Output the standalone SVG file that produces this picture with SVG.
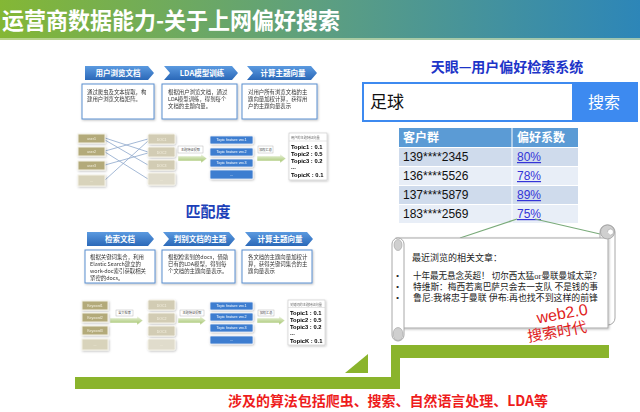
<svg xmlns="http://www.w3.org/2000/svg" width="640" height="412" viewBox="0 0 640 412">
<defs>
<linearGradient id="hdr" x1="0" y1="0" x2="1" y2="0">
<stop offset="0" stop-color="#84b735"/><stop offset="0.5" stop-color="#5d9f80"/><stop offset="1" stop-color="#2d86b8"/>
</linearGradient>
<linearGradient id="chevG" x1="0" y1="0" x2="0" y2="1">
<stop offset="0" stop-color="#5b9ae0"/><stop offset="1" stop-color="#2a68b8"/>
</linearGradient>
<linearGradient id="arrG" x1="0" y1="0" x2="0" y2="1">
<stop offset="0" stop-color="#eef4e2"/><stop offset="1" stop-color="#9fc266"/>
</linearGradient>
<filter id="sh" x="-20%" y="-20%" width="140%" height="150%">
<feDropShadow dx="0.8" dy="1" stdDeviation="0.8" flood-color="#000" flood-opacity="0.25"/>
</filter>
<style>
.cjk{font-family:"Noto Sans CJK SC","Liberation Sans",sans-serif}
.lat{font-family:"Liberation Sans","Noto Sans CJK SC",sans-serif}
.ser{font-family:"Liberation Serif","Noto Sans CJK SC",serif}
.chev{fill:url(#chevG)}
.chevT{fill:#fff;font-weight:bold;font-size:7.5px;text-anchor:middle}
.desc{fill:#fff;stroke:#5b8fcf;stroke-width:1}
.descT{fill:#333;font-size:5.4px}
.user{fill:#b3aa7a;stroke:#f4f1e6;stroke-width:1}
.userL{fill:#d8d3bb;stroke:#f4f1e6;stroke-width:1}
.doc{fill:#d2ccb4;stroke:#f4f1e6;stroke-width:1}
.docL{fill:#e0dccc;stroke:#f4f1e6;stroke-width:1}
.boxT{fill:#f4f0e0;font-size:3.5px;text-anchor:middle}
.vec{fill:#3c7dd0;stroke:#e8eef8;stroke-width:0.8}
.vecT{fill:#fff;font-size:3.7px;text-anchor:middle}
.lbl{fill:#fff;stroke:#b8b8b8;stroke-width:0.5}
.lblT{fill:#444;font-size:3.2px;text-anchor:middle}
.arr{fill:url(#arrG);stroke:#fff;stroke-width:0.5}
.res{fill:#fff;stroke:#c8c8c8;stroke-width:0.6}
.resH{fill:#666;font-size:3.2px}
.resT{fill:#000;font-weight:bold;font-size:5.8px}
.link{stroke:#8da7cc;stroke-width:0.8;fill:none}
.row1{fill:#cfdbec}
.row2{fill:#e8eef7}
.cell{fill:#111;font-size:12px}
.pct{fill:#3434d8;font-size:12px;text-decoration:underline}
.scT{fill:#222;font-size:9px}
</style>
</defs>

<g id="header">
<rect x="0" y="0" width="640" height="40" fill="url(#hdr)"/>
<rect x="0" y="38" width="640" height="2" fill="#cfe0b0" opacity="0.7"/>
<text class="cjk" x="2" y="29" font-size="23" font-weight="bold" fill="#fff" textLength="338" lengthAdjust="spacingAndGlyphs">运营商数据能力-关于上网偏好搜索</text>
</g>

<!-- Section 1 -->
<g id="chev1a"><path class="chev" d="M85,66 H148 L154,73 L148,80 H85 Z"/><text class="cjk chevT" x="118" y="76">用户浏览文档</text></g>
<g id="chev1b"><path class="chev" d="M164,66 H232 L238,73 L232,80 H164 L170,73 Z"/><text class="cjk chevT" x="202" y="76">LDA模型训练</text></g>
<g id="chev1c"><path class="chev" d="M247,66 H311 L317,73 L311,80 H247 L253,73 Z"/><text class="cjk chevT" x="283" y="76">计算主题向量</text></g>

<g id="desc1a" filter="url(#sh)"><rect class="desc" x="82" y="84" width="72" height="35"/>
<text class="cjk descT" x="87" y="94">通过爬虫及文本提取，构</text><text class="cjk descT" x="87" y="101">建用户浏览文档矩阵。</text></g>
<g id="desc1b" filter="url(#sh)"><rect class="desc" x="162" y="84" width="75" height="35"/>
<text class="cjk descT" x="168" y="94">根据用户浏览文档，通过</text><text class="cjk descT" x="168" y="101">LDA模型训练，得到每个</text><text class="cjk descT" x="168" y="108">文档的主题向量。</text></g>
<g id="desc1c" filter="url(#sh)"><rect class="desc" x="242" y="84" width="75" height="35"/>
<text class="cjk descT" x="248" y="94">对用户所有浏览文档的主</text><text class="cjk descT" x="248" y="101">题向量加权计算，获得用</text><text class="cjk descT" x="248" y="108">户的主题向量表示</text></g>

<g id="connectors1">
<line class="link" x1="105" y1="138" x2="148" y2="152"/>
<line class="link" x1="105" y1="140" x2="148" y2="165"/>
<line class="link" x1="105" y1="151" x2="148" y2="139"/>
<line class="link" x1="105" y1="152" x2="148" y2="179"/>
<line class="link" x1="105" y1="165" x2="148" y2="153"/>
<line class="link" x1="105" y1="180" x2="148" y2="141"/>
<polygon class="arr" points="178,156 201,156 201,154 207,158.5 201,163 201,161 178,161"/>
<polygon class="arr" points="257,156 280,156 280,154 286,158.5 280,163 280,161 257,161"/>
</g>

<g id="users1" filter="url(#sh)">
<rect class="user" x="78" y="134" width="27" height="9"/><text class="lat boxT" x="91.5" y="140">user1</text>
<rect class="user" x="78" y="147" width="27" height="9"/><text class="lat boxT" x="91.5" y="153">user2</text>
<rect class="user" x="78" y="161" width="27" height="9"/><text class="lat boxT" x="91.5" y="167">user3</text>
<rect class="userL" x="78" y="175" width="27" height="11"/><text class="lat boxT" x="91.5" y="182">...</text>
</g>
<g id="docs1" filter="url(#sh)">
<rect class="doc" x="148" y="134" width="27" height="10" rx="1.5"/><text class="lat boxT" x="161.5" y="140.5">DOC1</text>
<rect class="doc" x="148" y="147" width="27" height="10" rx="1.5"/><text class="lat boxT" x="161.5" y="153.5">DOC2</text>
<rect class="doc" x="148" y="160" width="27" height="10" rx="1.5"/><text class="lat boxT" x="161.5" y="166.5">DOC3</text>
<rect class="docL" x="148" y="173" width="27" height="12" rx="1.5"/><text class="lat boxT" x="161.5" y="180.5">...</text>
</g>
<g id="lbl1a"><rect class="lbl" x="178" y="146" width="25" height="7"/><text class="cjk lblT" x="190.5" y="150.8">主题特征提取</text></g>
<g id="vecs1" filter="url(#sh)">
<rect class="vec" x="210" y="136" width="43" height="8" rx="1"/><text class="lat vecT" x="231.5" y="141.3">Topic feature vec1</text>
<rect class="vec" x="210" y="148" width="43" height="8" rx="1"/><text class="lat vecT" x="231.5" y="153.3">Topic feature vec2</text>
<rect class="vec" x="210" y="159" width="43" height="8" rx="1"/><text class="lat vecT" x="231.5" y="164.3">Topic feature vec3</text>
<rect class="vec" x="210" y="170" width="43" height="9" rx="1"/><text class="lat vecT" x="231.5" y="175.5">...</text>
</g>
<g id="lbl1b"><rect class="lbl" x="258" y="146" width="15" height="7"/><text class="cjk lblT" x="265.5" y="150.8">加权汇总</text></g>
<g id="res1" filter="url(#sh)">
<rect class="res" x="289" y="133" width="38" height="47"/>
<text class="cjk resH" x="291" y="139">用户的主题特征向量</text>
<line x1="289" y1="141" x2="327" y2="141" stroke="#ccc" stroke-width="0.5"/>
<text class="lat resT" x="291" y="149">Topic1 : 0.1</text>
<text class="lat resT" x="291" y="156">Topic2 : 0.5</text>
<text class="lat resT" x="291" y="163">Topic3 : 0.2</text>
<text class="lat resT" x="291" y="169" font-weight="normal">...</text>
<text class="lat resT" x="291" y="177">TopicK : 0.1</text>
</g>

<g id="match"><text class="cjk" x="208" y="217" font-size="15" font-weight="bold" fill="#1c3fb8" text-anchor="middle">匹配度</text></g>

<!-- Section 2 -->
<g id="chev2a"><path class="chev" d="M87,232 H148 L154,239 L148,246 H87 Z"/><text class="cjk chevT" x="120" y="242">检索文档</text></g>
<g id="chev2b"><path class="chev" d="M163,232 H229 L235,239 L229,246 H163 L169,239 Z"/><text class="cjk chevT" x="200" y="242">判别文档的主题</text></g>
<g id="chev2c"><path class="chev" d="M245,232 H307 L313,239 L307,246 H245 L251,239 Z"/><text class="cjk chevT" x="280" y="242">计算主题向量</text></g>

<g id="desc2a" filter="url(#sh)"><rect class="desc" x="85" y="250" width="70" height="33"/>
<text class="cjk descT" x="90" y="259">根据关键词集合，利用</text><text class="cjk descT" x="90" y="266">Elastic Search建立的</text><text class="cjk descT" x="90" y="273">work-doc索引获取相关</text><text class="cjk descT" x="90" y="280">紧密的docs。</text></g>
<g id="desc2b" filter="url(#sh)"><rect class="desc" x="162" y="250" width="73" height="33"/>
<text class="cjk descT" x="168" y="259">根据检索到的docs，借助</text><text class="cjk descT" x="168" y="266">已有的LDA模型，得到每</text><text class="cjk descT" x="168" y="273">个文档的主题向量表示。</text></g>
<g id="desc2c" filter="url(#sh)"><rect class="desc" x="242" y="250" width="70" height="33"/>
<text class="cjk descT" x="248" y="259">各文档的主题向量加权计</text><text class="cjk descT" x="248" y="266">算，获得关键词集合的主</text><text class="cjk descT" x="248" y="273">题向量表示</text></g>

<g id="connectors2">
<polygon class="arr" points="110,318 137,318 137,316 143,320.5 137,325 137,323 110,323"/>
<polygon class="arr" points="178,318 200,318 200,316 206,320.5 200,325 200,323 178,323"/>
<polygon class="arr" points="257,318 279,318 279,316 285,320.5 279,325 279,323 257,323"/>
</g>
<g id="kw2" filter="url(#sh)">
<rect class="user" x="82" y="301" width="26" height="9"/><text class="lat boxT" x="95" y="307">Keyword1</text>
<rect class="user" x="82" y="313" width="26" height="9"/><text class="lat boxT" x="95" y="319">Keyword2</text>
<rect class="user" x="82" y="326" width="26" height="9"/><text class="lat boxT" x="95" y="332">Keyword3</text>
<rect class="userL" x="82" y="339" width="26" height="11"/><text class="lat boxT" x="95" y="346">...</text>
</g>
<g id="lbl2a"><rect class="lbl" x="116" y="310" width="17" height="6"/><text class="cjk lblT" x="124.5" y="314.2">全文检索</text></g>
<g id="docs2" filter="url(#sh)">
<rect class="doc" x="148" y="300" width="27" height="10" rx="1.5"/><text class="lat boxT" x="161.5" y="306.5">DOC1</text>
<rect class="doc" x="148" y="313" width="27" height="10" rx="1.5"/><text class="lat boxT" x="161.5" y="319.5">DOC2</text>
<rect class="doc" x="148" y="326" width="27" height="10" rx="1.5"/><text class="lat boxT" x="161.5" y="332.5">DOC3</text>
<rect class="docL" x="148" y="339" width="27" height="11" rx="1.5"/><text class="lat boxT" x="161.5" y="346">...</text>
</g>
<g id="lbl2b"><rect class="lbl" x="180" y="310" width="24" height="6"/><text class="cjk lblT" x="192" y="314.2">主题特征提取</text></g>
<g id="vecs2" filter="url(#sh)">
<rect class="vec" x="210" y="302" width="43" height="8" rx="1"/><text class="lat vecT" x="231.5" y="307.3">Topic feature vec1</text>
<rect class="vec" x="210" y="313" width="43" height="8" rx="1"/><text class="lat vecT" x="231.5" y="318.3">Topic feature vec2</text>
<rect class="vec" x="210" y="324" width="43" height="8" rx="1"/><text class="lat vecT" x="231.5" y="329.3">Topic feature vec3</text>
<rect class="vec" x="210" y="336" width="43" height="8" rx="1"/><text class="lat vecT" x="231.5" y="341.3">...</text>
</g>
<g id="lbl2c"><rect class="lbl" x="258" y="310" width="16" height="6"/><text class="cjk lblT" x="266" y="314.2">加权汇总</text></g>
<g id="res2" filter="url(#sh)">
<rect class="res" x="288" y="300" width="37" height="45"/>
<text class="cjk resH" x="290" y="305.5">关键词的主题特征向量</text>
<line x1="288" y1="307.5" x2="325" y2="307.5" stroke="#ccc" stroke-width="0.5"/>
<text class="lat resT" x="290" y="315">Topic1 : 0.1</text>
<text class="lat resT" x="290" y="322">Topic2 : 0.5</text>
<text class="lat resT" x="290" y="329">Topic3 : 0.2</text>
<text class="lat resT" x="290" y="335" font-weight="normal">...</text>
<text class="lat resT" x="290" y="343">TopicK : 0.1</text>
</g>

<!-- Right side -->
<g id="sysTitle"><text class="cjk" x="507" y="72" font-size="14" font-weight="bold" fill="#1d34c8" text-anchor="middle">天眼—用户偏好检索系统</text></g>
<g id="searchbar">
<rect x="363" y="83" width="274" height="38" fill="#fff" stroke="#3d8af0" stroke-width="2"/>
<rect x="572" y="83" width="65" height="38" fill="#3d8af0"/>
<text class="ser" x="370" y="108" font-size="17" fill="#111">足球</text>
<text class="ser" x="604" y="108" font-size="16" fill="#fff" text-anchor="middle">搜索</text>
</g>
<g id="table">
<rect x="399" y="128" width="179" height="19" fill="#5b9bd5"/>
<rect class="row1" x="399" y="148" width="179" height="18"/>
<rect class="row2" x="399" y="167" width="179" height="18"/>
<rect class="row1" x="399" y="186" width="179" height="18"/>
<rect class="row2" x="399" y="205" width="179" height="18"/>
<line x1="512" y1="128" x2="512" y2="223" stroke="#fff" stroke-width="1"/>
<text class="cjk" x="403" y="142" font-size="12" font-weight="bold" fill="#fff">客户群</text>
<text class="cjk" x="517" y="142" font-size="12" font-weight="bold" fill="#fff">偏好系数</text>
<text class="lat cell" x="403" y="161">139****2345</text><text class="lat pct" x="517" y="161">80%</text>
<text class="lat cell" x="403" y="180">136****5526</text><text class="lat pct" x="517" y="180">78%</text>
<text class="lat cell" x="403" y="199">137****5879</text><text class="lat pct" x="517" y="199">89%</text>
<text class="lat cell" x="403" y="218">183****2569</text><text class="lat pct" x="517" y="218">75%</text>
</g>
<g id="calloutLines">
<line x1="517" y1="219" x2="460" y2="238" stroke="#7aab7a" stroke-width="1.2"/>
<line x1="535" y1="219" x2="600" y2="234" stroke="#7aab7a" stroke-width="1.2"/>
</g>
<g id="scroll">
<rect x="600" y="225" width="15" height="100" rx="7" fill="#fff" stroke="#a8a8a8" stroke-width="1"/>
<rect x="396" y="238" width="212" height="90" fill="#fff" stroke="#a8a8a8" stroke-width="1" filter="url(#sh)"/>
<rect x="392" y="238" width="12" height="103" rx="6" fill="#fff" stroke="#a8a8a8" stroke-width="1"/>
<circle cx="607.5" cy="232" r="7" fill="#cfcfcf" stroke="#a0a0a0" stroke-width="0.8"/>
<path d="M607.5,232 a3,3 0 1 1 3,3" fill="#fff" stroke="#a0a0a0" stroke-width="0.6"/>
<ellipse cx="398" cy="245" rx="4" ry="5.5" fill="#cfcfcf" stroke="#a0a0a0" stroke-width="0.6"/>
<ellipse cx="398" cy="334" rx="5" ry="6.5" fill="#cfcfcf" stroke="#a0a0a0" stroke-width="0.6"/>
<text class="ser scT" x="412" y="261">最近浏览的相关文章：</text>
<text class="ser scT" x="396" y="279">•</text><text class="ser scT" x="396" y="290">•</text><text class="ser scT" x="396" y="301">•</text>
<text class="ser scT" x="413" y="279" textLength="188" lengthAdjust="spacingAndGlyphs">十年最无悬念英超！ 切尔西太猛or曼联曼城太菜？</text>
<text class="ser scT" x="413" y="290" textLength="185" lengthAdjust="spacingAndGlyphs">特维斯：梅西若离巴萨只会去一支队 不是钱的事</text>
<text class="ser scT" x="413" y="301" textLength="185" lengthAdjust="spacingAndGlyphs">鲁尼:我将忠于曼联 伊布:再也找不到这样的前锋</text>
<text class="lat" x="562" y="319" font-size="16" fill="#e02020" text-anchor="middle" transform="rotate(-10 562 313)">web2.0</text>
<text class="cjk" x="557" y="337" font-size="15" fill="#e02020" text-anchor="middle" transform="rotate(-10 557 331)">搜索时代</text>
</g>

<g id="greenShape" fill="#8ab42c">
<rect x="75" y="377" width="325" height="12"/>
<rect x="391" y="345" width="9" height="44"/>
<rect x="391" y="345" width="218" height="13"/>
<polygon points="368,354 368,373 345,373"/>
</g>

<g id="footer"><text class="cjk" x="388" y="406" font-size="14" font-weight="bold" fill="#ee1c1c" text-anchor="middle" textLength="320" lengthAdjust="spacingAndGlyphs">涉及的算法包括爬虫、搜索、自然语言处理、LDA等</text></g>
</svg>
